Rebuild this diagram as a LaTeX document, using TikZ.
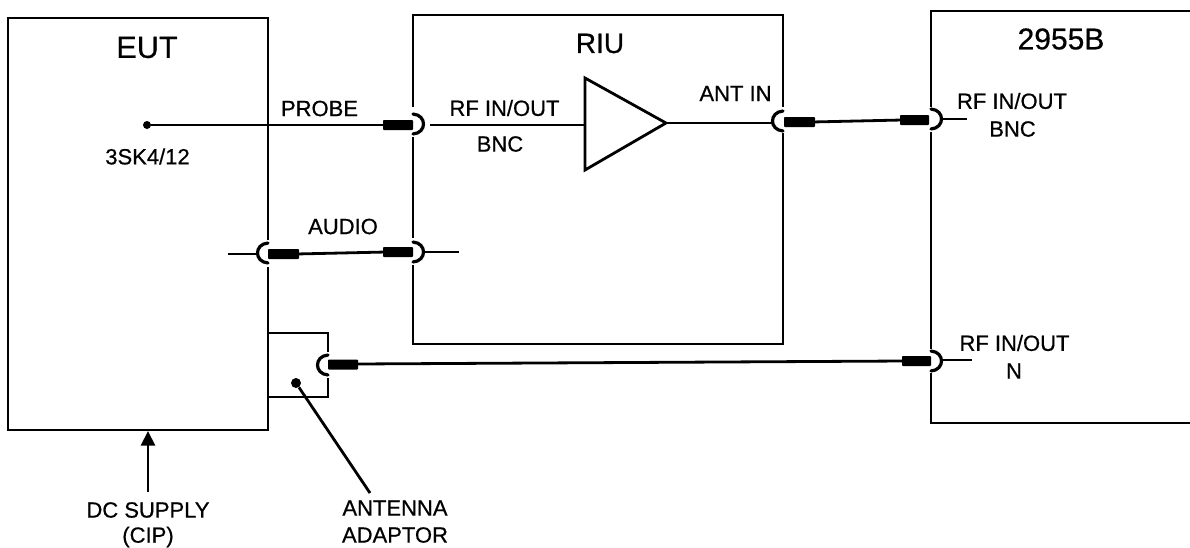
\documentclass[tikz,border=0pt]{standalone}
\usepackage{fontspec}
\setmainfont{Liberation Sans}[FakeBold=0.6]
\usetikzlibrary{arrows.meta}
\tikzset{
  x=0.75pt,y=-0.75pt,
  wire/.style={draw=black,line width=2.1pt},
  boxline/.style={draw=black,line width=2.05pt,line cap=butt},
  thin wire/.style={draw=black,line width=1.8pt},
  plug/.style={draw=none,fill=black,rounded corners=0.6pt},
  socket/.style={draw=black,line width=2.4pt,line cap=round},
  lab/.style={font=\fontsize{16.5pt}{18pt}\selectfont,inner sep=0pt,text=black,align=center},
  dot/.style={circle,fill=black,draw=none,inner sep=0pt}
}
\newcommand{\sockR}[2]{% bulges right
  \draw[socket] (#1,#2-10) .. controls (#1+14,#2-9) and (#1+14,#2+9) .. (#1,#2+10);}
\newcommand{\sockL}[2]{% bulges left
  \draw[socket] (#1,#2-10) .. controls (#1-14,#2-9) and (#1-14,#2+9) .. (#1,#2+10);}
\begin{document}
\begin{tikzpicture}
\useasboundingbox (0,0) rectangle (1190,547);
\fill[white] (0,0) rectangle (1190,547);
% boxes with gaps at the connectors
\draw[boxline] (268,240) -- (268,18) -- (8,18) -- (8,430) -- (268,430) -- (268,267);
\draw[boxline] (413,107) -- (413,15) -- (783,15) -- (783,107);
\draw[boxline] (783,133) -- (783,344) -- (413,344) -- (413,265);
\draw[boxline] (413,137) -- (413,238);
\draw[boxline] (1190,11) -- (931,11) -- (931,107);
\draw[boxline] (931,132) -- (931,349);
\draw[boxline] (931,373) -- (931,423) -- (1190,423);
% adaptor
\draw[boxline] (268,333) -- (328,333) -- (328,352);
\draw[boxline] (328,378) -- (328,397) -- (268,397);
% amplifier
\node[coordinate] (triA) at (585,78) {};
\node[coordinate] (triB) at (585,170) {};
\node[coordinate] (triC) at (666,123) {};
\draw[wire,line join=miter] (triA) -- (triC) -- (triB) -- cycle;
% named connector ends
\coordinate (probeDot) at (147,125);
\coordinate (probeEnd) at (386,125);
\coordinate (rfStart) at (430,125);
\coordinate (triIn) at (585,125);
\coordinate (antIn) at (773,123);
\coordinate (ant2) at (812,122);
\coordinate (bnc2) at (902,120);
\coordinate (bncStub1) at (941,119);
\coordinate (bncStub2) at (967,119);
\coordinate (audA) at (228,254);
\coordinate (audB) at (258,254);
\coordinate (audC) at (296,254);
\coordinate (audD) at (386,252);
\coordinate (audE) at (423,252);
\coordinate (audF) at (459,252);
\coordinate (adC) at (356,364);
\coordinate (adD) at (904,361);
\coordinate (nStub1) at (941,360);
\coordinate (nStub2) at (972,360);
% wires
\node[dot,minimum size=6pt] (pd) at (probeDot) {};
\draw[wire] (pd) -- (probeEnd);
\draw[wire] (rfStart) -- (triIn);
\draw[wire] (triC) -- (antIn);
\draw[wire] (ant2) -- (bnc2);
\draw[thin wire] (bncStub1) -- (bncStub2);
\draw[thin wire] (audA) -- (audB);
\draw[wire] (audC) -- (audD);
\draw[thin wire] (audE) -- (audF);
\draw[wire] (adC) -- (adD);
\draw[thin wire] (nStub1) -- (nStub2);
% plugs
\fill[plug] (383,120) rectangle (413,130);
\fill[plug] (383,247) rectangle (413,257);
\fill[plug] (268,249) rectangle (299,259);
\fill[plug] (784,117) rectangle (815,127);
\fill[plug] (900,115) rectangle (929,125);
\fill[plug] (328,359.5) rectangle (358,369.5);
\fill[plug] (902,356) rectangle (931,366);
% sockets
\sockR{413}{124}
\sockR{413}{252}
\sockR{931}{119}
\sockR{931}{361}
\sockL{268}{253}
\sockL{783}{121}
\sockL{328}{365}
% antenna adaptor pointer
\node[dot,minimum size=7.5pt] (adDot) at (296,383) {};
\coordinate (adTail) at (370,493);
\draw[wire] (adDot) -- (adTail);
% DC supply arrow
\coordinate (dcTail) at (148,492);
\coordinate (dcHead) at (148,431);
\draw[wire,-{Triangle[length=11pt,width=10.5pt]}] (dcTail) -- (dcHead);
% labels
\node[inner sep=0pt,font=\fontsize{23pt}{25pt}\selectfont] (eut) at (147,47.5) {EUT};
\node[inner sep=0pt,font=\fontsize{21pt}{23pt}\selectfont] (riu) at (600,43.5) {RIU};
\node[inner sep=0pt,font=\fontsize{22.5pt}{24pt}\selectfont] (t2955) at (1061,39) {2955B};
\node[lab] (lprobe) at (319.5,108.5) {PROBE};
\node[lab] (l3sk) at (147.5,156.5) {3SK4/12};
\node[lab] (laudio) at (343,226.5) {AUDIO};
\node[lab] (lrf1) at (504.5,108) {RF IN/OUT};
\node[lab] (lbnc1) at (500,144) {BNC};
\node[lab] (lant) at (735.5,93.5) {ANT IN};
\node[lab] (lrf2) at (1012,101) {RF IN/OUT};
\node[lab] (lbnc2) at (1012.5,129) {BNC};
\node[lab] (lrf3) at (1014.5,343) {RF IN/OUT};
\node[lab] (ln) at (1014,371) {N};
\node[lab] (ldc1) at (148,510) {DC SUPPLY};
\node[lab] (ldc2) at (148,537) {(CIP)};
\node[lab] (lad1) at (395,508) {ANTENNA};
\node[lab] (lad2) at (395,535) {ADAPTOR};
\end{tikzpicture}
\end{document}
